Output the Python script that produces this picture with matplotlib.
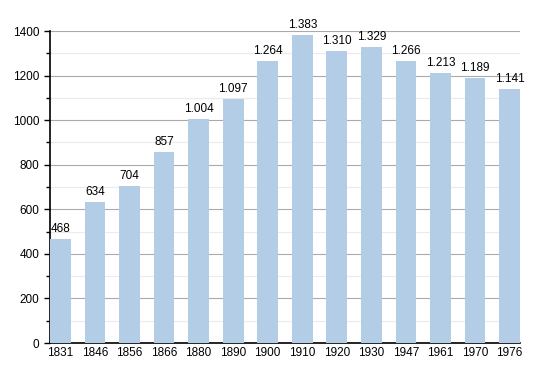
import matplotlib
matplotlib.use("Agg")
import matplotlib.pyplot as plt
from matplotlib.ticker import MultipleLocator

years = ['1831', '1846', '1856', '1866', '1880', '1890', '1900', '1910',
         '1920', '1930', '1947', '1961', '1970', '1976']
population = [468, 634, 704, 857, 1004, 1097, 1264, 1383,
              1310, 1329, 1266, 1213, 1189, 1141]

plt.rcParams['font.family'] = ['Liberation Sans', 'DejaVu Sans']

fig = plt.figure(figsize=(5.5, 3.73), dpi=100)
ax = fig.add_axes([50/550, 30/373, 470/550, 312/373])

x = range(len(years))
ax.bar(x, population, width=0.6, color='#b3cde6', zorder=3)

for i, v in enumerate(population):
    s = f"{v:,}".replace(',', '.')
    ax.text(i, v + 18, s, ha='center', va='bottom', fontsize=8.5, color='black')

ax.set_xlim(-0.3, len(years) - 0.7)
ax.set_ylim(0, 1400)
ax.set_xticks(list(x))
ax.set_xticklabels(years, fontsize=8.5)
ax.yaxis.set_major_locator(MultipleLocator(200))
ax.yaxis.set_minor_locator(MultipleLocator(100))
ax.tick_params(axis='y', labelsize=8.5, length=4, width=1, direction='out')
ax.tick_params(axis='y', which='minor', length=3, width=1)
ax.tick_params(axis='x', length=0, pad=3)

ax.grid(axis='y', which='major', color='#aaaaaa', linewidth=0.8, zorder=0)
ax.grid(axis='y', which='minor', color='#ebebeb', linewidth=0.8, zorder=0)

for side in ['top', 'right']:
    ax.spines[side].set_visible(False)
ax.spines['left'].set_linewidth(1.2)
ax.spines['bottom'].set_linewidth(1.2)

fig.savefig('out.png', dpi=100)
